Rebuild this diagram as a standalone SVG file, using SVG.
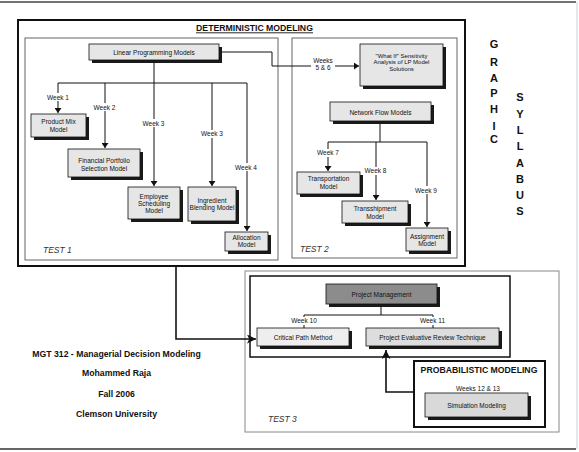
<svg xmlns="http://www.w3.org/2000/svg" width="579" height="452" viewBox="0 0 579 452">
<defs>
<style>
text{font-family:"Liberation Sans",Arial,sans-serif;fill:#111}
.n{font-size:6.5px;text-anchor:middle}
.w{font-size:6.5px;text-anchor:middle}
.t{font-size:8.7px;font-weight:bold;text-anchor:middle}
.big{font-size:11px;font-weight:bold;text-anchor:middle}
.test{font-size:8.5px;font-style:italic;fill:#333}
.box{fill:#e6e6e6;stroke:#111;stroke-width:0.8}
.sh{fill:#1a1a1a}
.ln{fill:none;stroke:#111;stroke-width:1}
.thick{fill:none;stroke:#111;stroke-width:1.6}
.bg{fill:#fff}
</style>
<marker id="ah" viewBox="0 0 8 8" refX="8" refY="4" markerWidth="5" markerHeight="7" markerUnits="userSpaceOnUse" orient="auto" preserveAspectRatio="none"><path d="M0,0 L8,4 L0,8 z" fill="#111"/></marker>
<marker id="ahb" viewBox="0 0 8 8" refX="8" refY="4" markerWidth="9" markerHeight="9" markerUnits="userSpaceOnUse" orient="auto"><path d="M0,0 L8,4 L0,8 L2,4 z" fill="#111"/></marker>
</defs>
<rect width="579" height="452" fill="#fff"/>
<line x1="0" y1="2" x2="576" y2="2" stroke="#444" stroke-width="1.5"/>
<line x1="0" y1="449" x2="576" y2="449" stroke="#333" stroke-width="1.5"/>
<line x1="577" y1="2" x2="577" y2="449" stroke="#c5d2de" stroke-width="1"/>

<g id="frames">
<rect x="18" y="20" width="447" height="246" fill="none" stroke="#111" stroke-width="2"/>
<text class="t" x="254.5" y="31">DETERMINISTIC MODELING</text>
<line x1="196" y1="32.8" x2="313" y2="32.8" stroke="#111" stroke-width="0.9"/>
<rect x="25" y="38" width="253" height="222" fill="none" stroke="#555" stroke-width="0.9"/>
<rect x="292" y="38" width="165" height="220" fill="none" stroke="#555" stroke-width="0.9"/>
<text class="test" x="43" y="253">TEST 1</text>
<text class="test" x="300" y="252">TEST 2</text>
<rect x="245" y="271" width="314" height="161" fill="none" stroke="#888" stroke-width="1"/>
<rect x="250" y="276" width="260" height="81" fill="none" stroke="#111" stroke-width="1.5"/>
<text class="test" x="268" y="422">TEST 3</text>
<rect x="414" y="361" width="131" height="66" fill="#fff" stroke="#111" stroke-width="2"/>
<text class="t" x="479" y="372.5">PROBABILISTIC MODELING</text>
</g>

<g id="connectors">
<path class="ln" d="M154,60 V186" marker-end="url(#ah)"/>
<path class="ln" d="M58,83 H247"/>
<path class="ln" d="M58,83 V113" marker-end="url(#ah)"/>
<path class="ln" d="M105,83 V148" marker-end="url(#ah)"/>
<path class="ln" d="M212,83 V186" marker-end="url(#ah)"/>
<path class="ln" d="M247,83 V231" marker-end="url(#ah)"/>
<path class="ln" d="M219,52 H272 V66 H359" marker-end="url(#ah)"/>
<path class="ln" d="M380,121 V142"/>
<path class="ln" d="M328,142 H427"/>
<path class="ln" d="M328,142 V171" marker-end="url(#ah)"/>
<path class="ln" d="M376,142 V200" marker-end="url(#ah)"/>
<path class="ln" d="M427,142 V227" marker-end="url(#ah)"/>
<path class="thick" d="M176,266 V339 H256" marker-end="url(#ahb)"/>
<path class="ln" d="M381,304 V315 M304,315 H433 M304,315 V328 M433,315 V328"/>
<path class="thick" d="M414,392 H386 V350" marker-end="url(#ahb)"/>
<g id="labels">
<rect class="bg" x="46" y="93" width="24" height="8"/><text class="w" x="58" y="99.5">Week 1</text>
<rect class="bg" x="92" y="103" width="25" height="8"/><text class="w" x="104.5" y="109.5">Week 2</text>
<rect class="bg" x="141" y="119" width="25" height="8"/><text class="w" x="153.5" y="125.5">Week 3</text>
<rect class="bg" x="200" y="130" width="25" height="8"/><text class="w" x="212" y="136">Week 3</text>
<rect class="bg" x="234" y="163" width="25" height="8"/><text class="w" x="246" y="169.5">Week 4</text>
<rect class="bg" x="311" y="57" width="24" height="15"/><text class="w" x="323" y="63"><tspan x="323">Weeks</tspan><tspan x="323" dy="7">5 &amp; 6</tspan></text>
<rect class="bg" x="316" y="149" width="25" height="8"/><text class="w" x="328" y="155">Week 7</text>
<rect class="bg" x="363" y="167" width="25" height="8"/><text class="w" x="375.5" y="173">Week 8</text>
<rect class="bg" x="414" y="186" width="25" height="8"/><text class="w" x="426" y="192.5">Week 9</text>
<rect class="bg" x="291" y="317" width="27" height="8"/><text class="w" x="304" y="323">Week 10</text>
<rect class="bg" x="420" y="317" width="26" height="8"/><text class="w" x="432.5" y="323">Week 11</text>
<text class="w" x="478" y="390.5">Weeks 12 &amp; 13</text>
</g>
</g>

<g id="lp"><rect class="sh" x="92" y="47" width="130" height="16"/><rect class="box" x="89" y="44" width="130" height="16"/><text class="n" x="154" y="54.5">Linear Programming Models</text></g>
<g id="productmix"><rect class="sh" x="34" y="117" width="55" height="23"/><rect class="box" x="31" y="114" width="55" height="23"/><text class="n" x="58.5" y="124">Product Mix<tspan x="58.5" dy="7.5">Model</tspan></text></g>
<g id="financial"><rect class="sh" x="71" y="152" width="72" height="28"/><rect class="box" x="68" y="149" width="72" height="28"/><text class="n" x="104" y="162.5">Financial Portfolio<tspan x="104" dy="8">Selection Model</tspan></text></g>
<g id="employee"><rect class="sh" x="131" y="190" width="52" height="32"/><rect class="box" x="128" y="187" width="52" height="32"/><text class="n" x="154" y="198.5">Employee<tspan x="154" dy="7">Scheduling</tspan><tspan x="154" dy="7">Model</tspan></text></g>
<g id="ingredient"><rect class="sh" x="191" y="190" width="48" height="34"/><rect class="box" x="188" y="187" width="48" height="34"/><text class="n" x="212" y="203">Ingredient<tspan x="212" dy="7.2">Blending Model</tspan></text></g>
<g id="allocation"><rect class="sh" x="228" y="235" width="43" height="19"/><rect class="box" x="225" y="232" width="43" height="19"/><text class="n" x="246.5" y="240">Allocation<tspan x="246.5" dy="7.3">Model</tspan></text></g>
<g id="whatif"><rect class="sh" x="363" y="47" width="83" height="42"/><rect class="box" x="360" y="44" width="83" height="42"/><text class="n" x="401.5" y="58" style="font-size:6px">"What If" Sensitivity<tspan x="401.5" dy="6.3">Analysis of LP Model</tspan><tspan x="401.5" dy="6.3">Solutions</tspan></text></g>
<g id="network"><rect class="sh" x="333" y="105" width="101" height="19"/><rect class="box" x="330" y="102" width="101" height="19"/><text class="n" x="380.5" y="114.5">Network Flow Models</text></g>
<g id="transport"><rect class="sh" x="300" y="175" width="63" height="22"/><rect class="box" x="297" y="172" width="63" height="22"/><text class="n" x="328.5" y="181">Transportation<tspan x="328.5" dy="7.5">Model</tspan></text></g>
<g id="transship"><rect class="sh" x="345" y="204" width="66" height="22"/><rect class="box" x="342" y="201" width="66" height="22"/><text class="n" x="375" y="211.2">Transshipment<tspan x="375" dy="7.3">Model</tspan></text></g>
<g id="assignment"><rect class="sh" x="409" y="231" width="42" height="23"/><rect class="box" x="406" y="228" width="42" height="23"/><text class="n" x="427" y="239">Assignment<tspan x="427" dy="7">Model</tspan></text></g>
<g id="projmgmt"><rect class="sh" x="329" y="287" width="111" height="20"/><rect class="box" x="326" y="284" width="111" height="20" style="fill:#8c8c8c"/><text class="n" x="381.5" y="296.5">Project Management</text></g>
<g id="cpm"><rect class="sh" x="260" y="331" width="92" height="18"/><rect class="box" x="257" y="328" width="92" height="18" style="fill:#eeeeee"/><text class="n" x="303" y="339.5">Critical Path Method</text></g>
<g id="pert"><rect class="sh" x="369" y="331" width="133" height="18"/><rect class="box" x="366" y="328" width="133" height="18" style="fill:#dddddd"/><text class="n" x="432.5" y="339.5">Project Evaluative Review Technique</text></g>
<g id="simulation"><rect class="sh" x="428" y="396" width="103" height="24"/><rect class="box" x="425" y="393" width="103" height="24" style="fill:#d9d9d9"/><text class="n" x="476.5" y="407.5">Simulation Modeling</text></g>

<g id="title">
<text class="big" x="494" y="48">G</text>
<text class="big" x="494" y="66">R</text>
<text class="big" x="494" y="82">A</text>
<text class="big" x="494" y="97">P</text>
<text class="big" x="494" y="113">H</text>
<text class="big" x="494" y="130">I</text>
<text class="big" x="494" y="143">C</text>
<text class="big" x="520" y="101">S</text>
<text class="big" x="520" y="118">Y</text>
<text class="big" x="520" y="134">L</text>
<text class="big" x="520" y="150">L</text>
<text class="big" x="520" y="167">A</text>
<text class="big" x="520" y="183">B</text>
<text class="big" x="520" y="199">U</text>
<text class="big" x="520" y="215">S</text>
</g>
<g id="course">
<text class="t" x="116.5" y="357">MGT 312 - Managerial Decision Modeling</text>
<text class="t" x="116.5" y="376">Mohammed Raja</text>
<text class="t" x="116.5" y="397">Fall 2006</text>
<text class="t" x="116.5" y="417">Clemson University</text>
</g>
</svg>
